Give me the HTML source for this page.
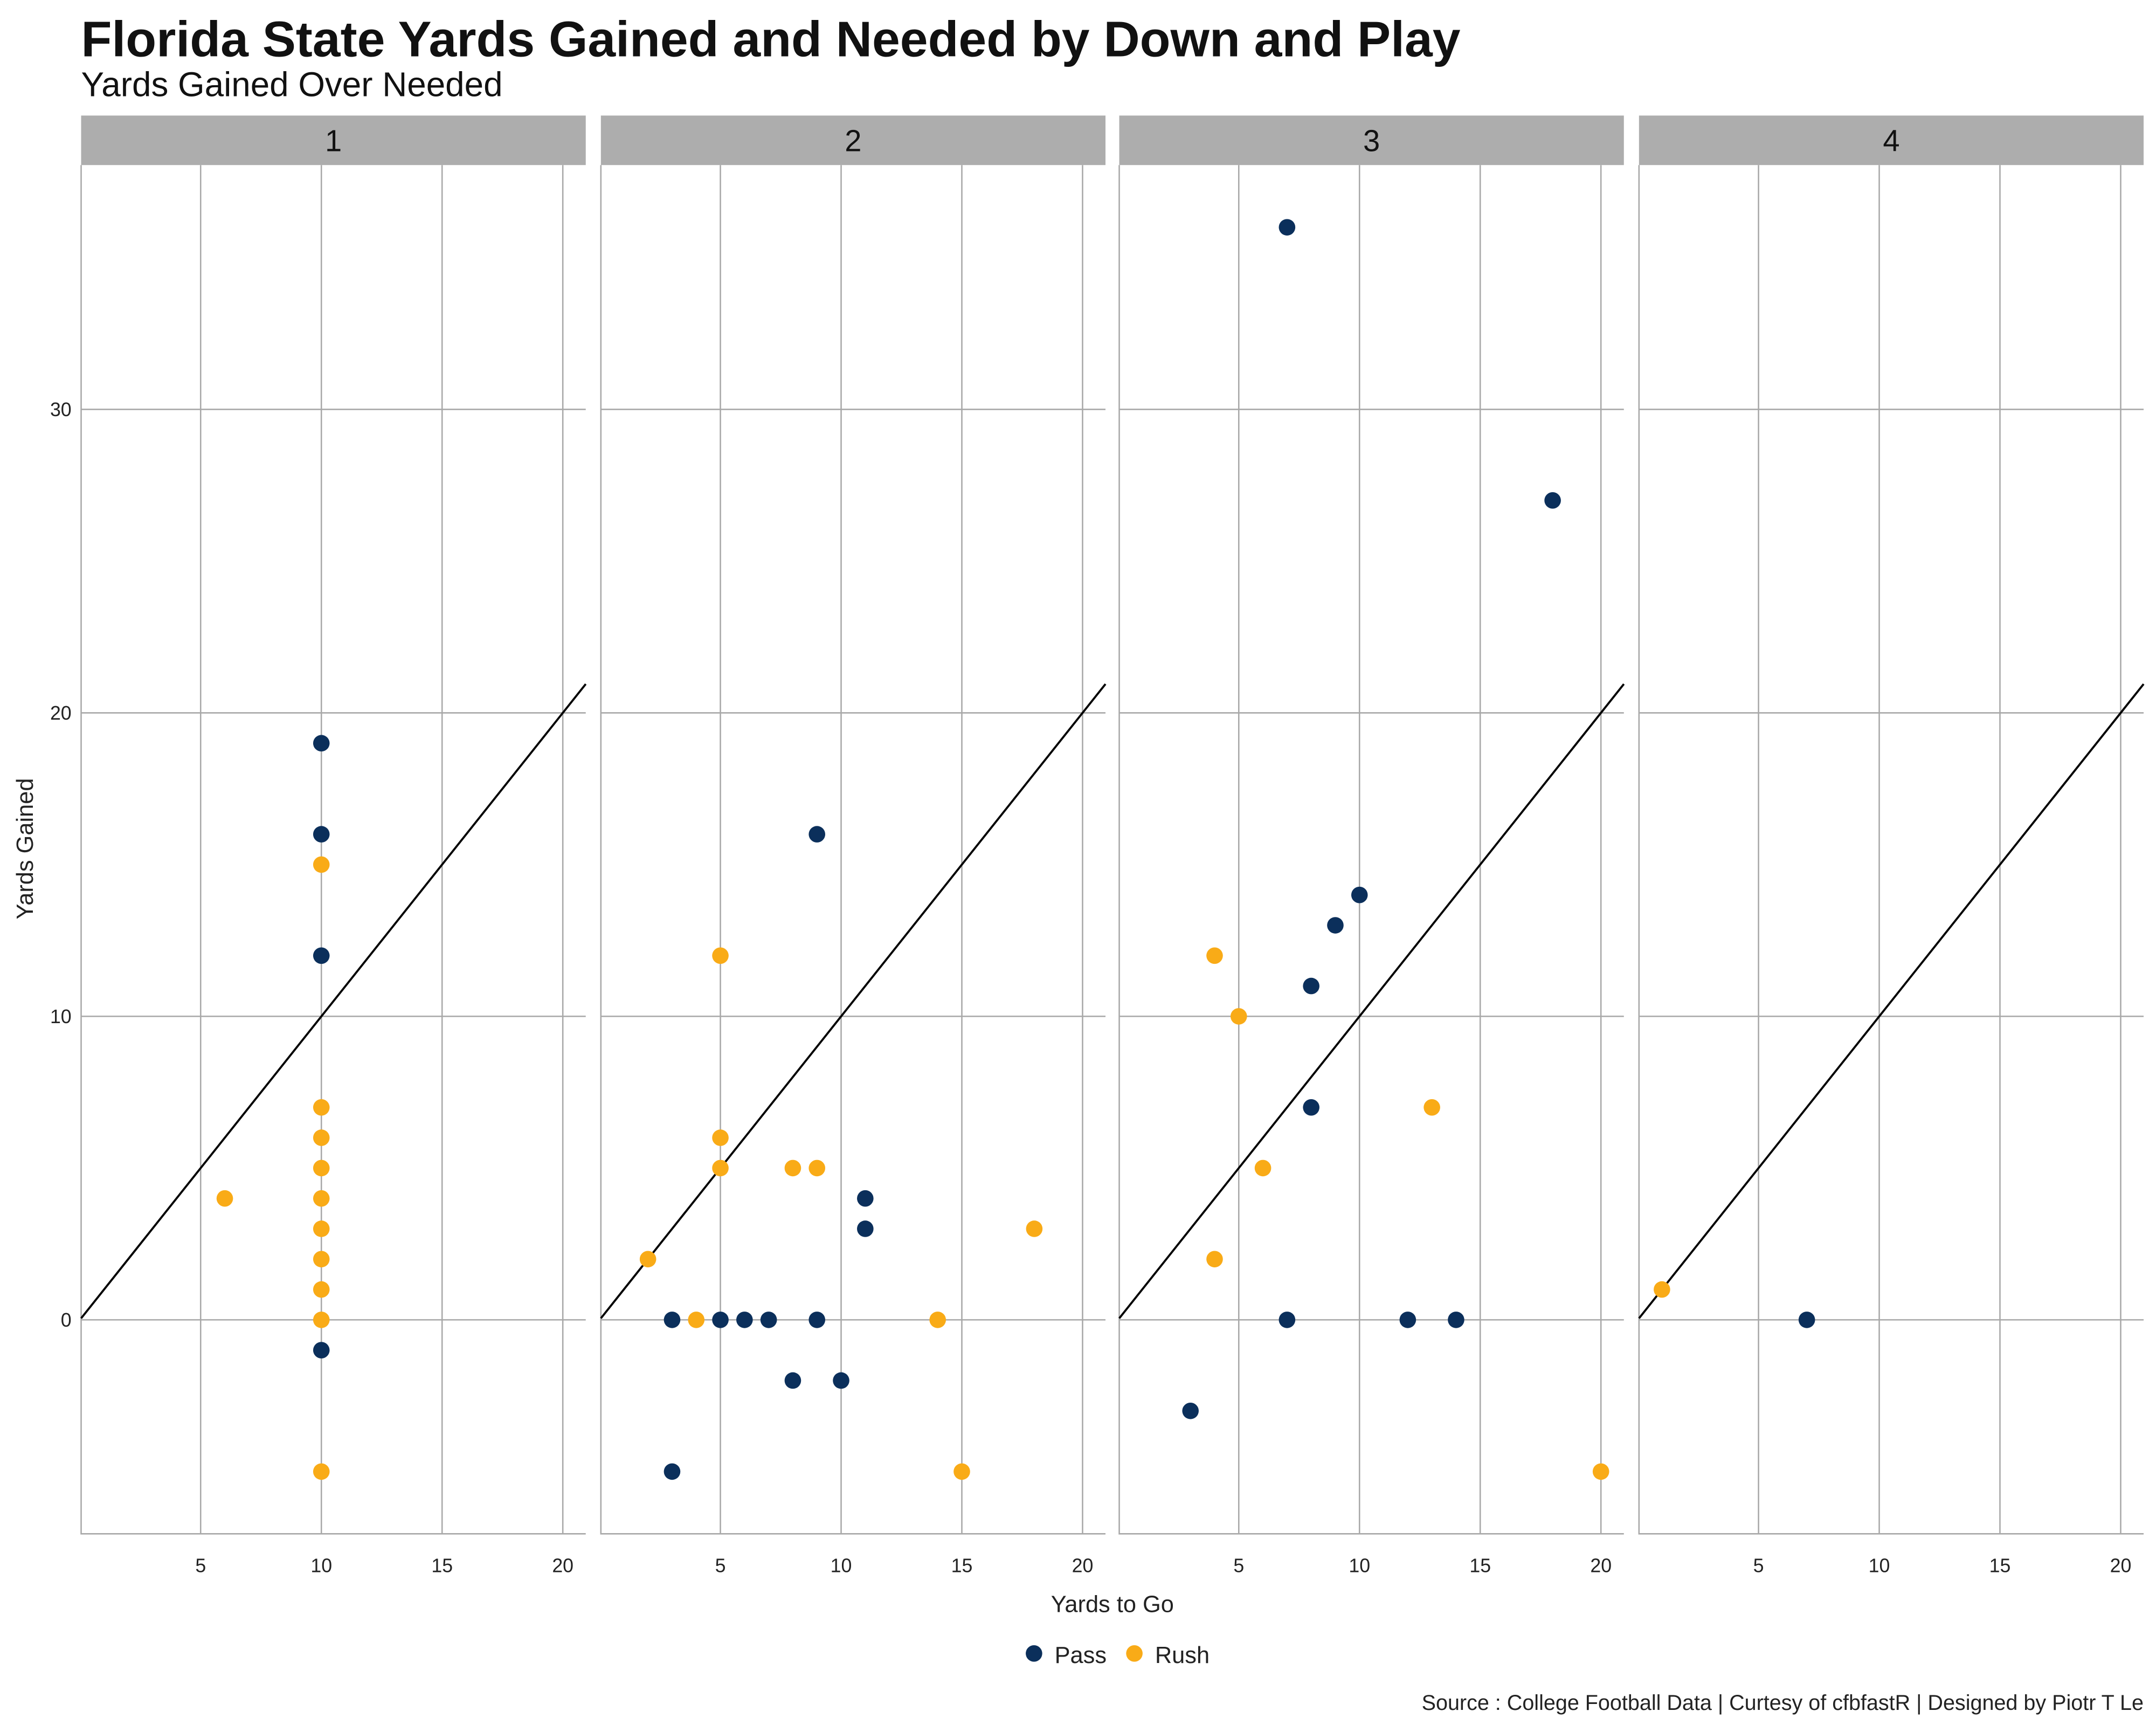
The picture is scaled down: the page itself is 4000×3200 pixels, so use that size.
<!DOCTYPE html>
<html><head><meta charset="utf-8"><style>
html,body{margin:0;padding:0;background:#fff;}
svg{display:block;font-family:"Liberation Sans",sans-serif;}
</style></head><body>
<svg id="chart" width="4000" height="3200" viewBox="0 0 1568 1254" preserveAspectRatio="none">
<rect x="0" y="0" width="1568" height="1254" fill="#fff"/>
<text x="59" y="41" font-size="36.5" font-weight="bold" fill="#111">Florida State Yards Gained and Needed by Down and Play</text>
<text x="59" y="70" font-size="25" fill="#111">Yards Gained Over Needed</text>
<g id="panels"></g>
<text x="809" y="1172" font-size="17" text-anchor="middle" fill="#222">Yards to Go</text>
<text transform="translate(24,617) rotate(-90)" font-size="17" text-anchor="middle" fill="#222">Yards Gained</text>
<g>
<circle cx="752" cy="1202" r="6" fill="#0b2f5b"/>
<text x="767" y="1209" font-size="17" fill="#222">Pass</text>
<circle cx="825" cy="1202" r="6" fill="#f9ab17"/>
<text x="840" y="1209" font-size="17" fill="#222">Rush</text>
</g>
<text x="1559" y="1243" font-size="15.5" text-anchor="end" fill="#222">Source : College Football Data | Curtesy of cfbfastR | Designed by Piotr T Le</text>
</svg>
<script>
const downs = ["1","2","3","4"];
const passX = [[10,10,10,10],[9,11,11,3,5,6,7,9,8,10,3],[7,18,10,9,8,8,7,12,14,3],[7]];
const passY = [[19,16,12,-1],[16,4,3,0,0,0,0,0,-2,-2,-5],[36,27,14,13,11,7,0,0,0,-3],[0]];
const rushX = [[6,10,10,10,10,10,10,10,10,10,10],[5,5,5,8,9,18,2,4,14,15],[4,5,13,6,4,20],[1]];
const rushY = [[4,15,7,6,5,4,3,2,1,0,-5],[12,6,5,5,5,3,2,0,0,-5],[12,10,7,5,2,-5],[1]];
const xTicks = [5,10,15,20];
const yTicks = [0,10,20,30];

const NS="http://www.w3.org/2000/svg";
const panelLefts=[59,437,814,1192], pw=367, plotTop=120, plotBottom=1115;
const xMin=0.05,xMax=20.95,yMin=-7.05,yMax=38.05;
function sx(p,v){return panelLefts[p]+(v-xMin)/(xMax-xMin)*pw;}
function sy(v){return plotBottom-(v-yMin)/(yMax-yMin)*(plotBottom-plotTop);}
function mk(tag,attrs,parent){const e=document.createElementNS(NS,tag);for(const k in attrs)e.setAttribute(k,attrs[k]);parent.appendChild(e);return e;}
const root=document.getElementById('panels');
downs.forEach((d,p)=>{
  const g=mk('g',{},root);
  
  
  const L=panelLefts[p];
  const strip=mk('rect',{x:L,y:84,width:pw,height:36,fill:'#adadad'},g);
  
  
  const st=mk('text',{x:L+pw/2,y:110,'font-size':22,'text-anchor':'middle',fill:'#111'},g);
  st.textContent=d;
  
  
  xTicks.forEach(t=>{
    const ln=mk('line',{x1:sx(p,t),x2:sx(p,t),y1:plotTop,y2:plotBottom,stroke:'#a8a8a8','stroke-width':1},g);
    
    
    const tx=mk('text',{x:sx(p,t),y:1143,'font-size':14,'text-anchor':'middle',fill:'#222'},g);
    tx.textContent=t;
    
    
  });
  yTicks.forEach(t=>{
    const ln=mk('line',{x1:L,x2:L+pw,y1:sy(t),y2:sy(t),stroke:'#a8a8a8','stroke-width':1},g);
    
    
    if(p===0){
      const tx=mk('text',{x:52,y:sy(t)+5,'font-size':14,'text-anchor':'end',fill:'#222'},g);
      tx.textContent=t;
      
      
    }
  });
  const ax=mk('path',{d:`M${L},${plotTop}V${plotBottom}H${L+pw}`,fill:'none',stroke:'#a8a8a8','stroke-width':1},g);
  
  
  const ref=mk('line',{x1:sx(p,xMin),y1:sy(xMin),x2:sx(p,xMax),y2:sy(xMax),stroke:'#000','stroke-width':1.5},g);
  
  
  rushX[p].forEach((x,i)=>{
    const c=mk('circle',{cx:sx(p,x),cy:sy(rushY[p][i]),r:6,fill:'#f9ab17'},g);
    
    
  });
  passX[p].forEach((x,i)=>{
    const c=mk('circle',{cx:sx(p,x),cy:sy(passY[p][i]),r:6,fill:'#0b2f5b'},g);
    
    
  });
});
</script>
</body></html>
